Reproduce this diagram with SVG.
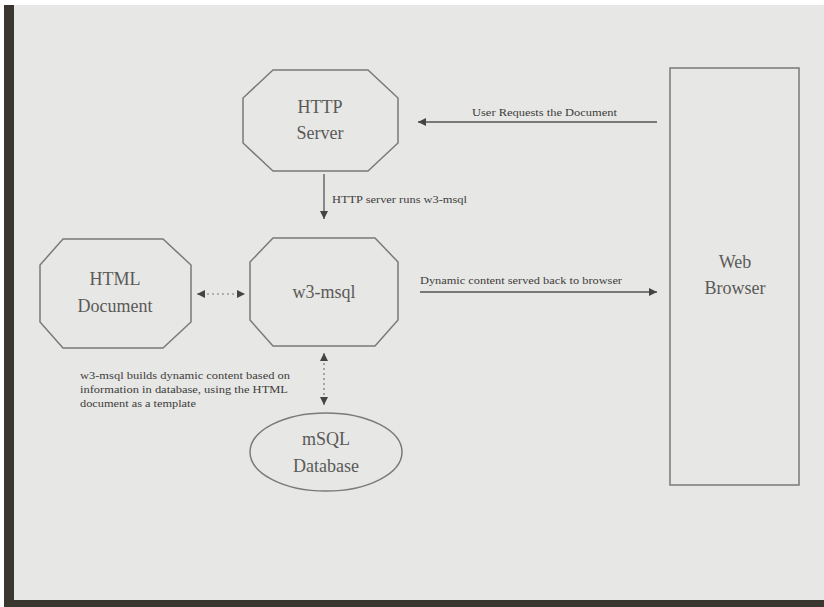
<svg xmlns="http://www.w3.org/2000/svg" width="824" height="607" viewBox="0 0 824 607">
<defs>
<style>
.shape{fill:none;stroke:#7a7a78;stroke-width:1.5}
.conn{stroke:#555;stroke-width:1.3;fill:none}
.dash{stroke:#777;stroke-width:1.2;stroke-dasharray:2 3;fill:none}
.big{font-family:"Liberation Serif","DejaVu Serif",serif;font-size:18px;fill:#5a5a58;text-anchor:middle}
.small{font-family:"Liberation Serif","DejaVu Serif",serif;font-size:9.5px;fill:#3c3c3a}
</style>
<marker id="ah" viewBox="0 0 10 10" refX="10" refY="5" markerWidth="12" markerHeight="8" markerUnits="userSpaceOnUse" orient="auto-start-reverse">
<path d="M0,0 L10,5 L0,10 z" fill="#444"/>
</marker>
</defs>
<rect x="0" y="0" width="824" height="607" fill="#ffffff"/>
<rect x="4" y="5" width="820" height="602" fill="#e7e7e5"/>
<rect x="4" y="5" width="10" height="602" fill="#3a3630"/>
<rect x="4" y="600" width="820" height="7" fill="#3a3630"/>

<g id="http-server">
<polygon class="shape" points="273,70 368,70 398,98 398,143 368,171 273,171 243,143 243,98"/>
<text class="big" x="320" y="113">HTTP</text>
<text class="big" x="320" y="139">Server</text>
</g>
<g id="w3-msql">
<polygon class="shape" points="273,238 375,238 398,262 398,320 375,346 273,346 250,320 250,262"/>
<text class="big" x="324" y="298">w3-msql</text>
</g>
<g id="html-document">
<polygon class="shape" points="63,239 163,239 191,265 191,322 163,348 63,348 40,322 40,265"/>
<text class="big" x="115" y="285">HTML</text>
<text class="big" x="115" y="312">Document</text>
</g>
<g id="msql-database">
<ellipse class="shape" cx="326" cy="452" rx="76" ry="39"/>
<text class="big" x="326" y="445">mSQL</text>
<text class="big" x="326" y="472">Database</text>
</g>
<g id="web-browser">
<rect class="shape" x="670" y="68" width="129" height="417"/>
<text class="big" x="735" y="268">Web</text>
<text class="big" x="735" y="294">Browser</text>
</g>

<g id="connectors">
<line class="conn" x1="657" y1="122" x2="418" y2="122" marker-end="url(#ah)"/>
<line class="conn" x1="324" y1="174" x2="324" y2="219" marker-end="url(#ah)"/>
<line class="conn" x1="420" y1="292" x2="657" y2="292" marker-end="url(#ah)"/>
<line class="dash" x1="197" y1="294" x2="245" y2="294" marker-start="url(#ah)" marker-end="url(#ah)"/>
<line class="dash" x1="324" y1="353" x2="324" y2="405" marker-start="url(#ah)" marker-end="url(#ah)"/>
</g>

<g id="labels">
<text class="small" x="472" y="116" textLength="145" lengthAdjust="spacingAndGlyphs">User Requests the Document</text>
<text class="small" x="332" y="203" textLength="135" lengthAdjust="spacingAndGlyphs">HTTP server runs w3-msql</text>
<text class="small" x="420" y="284" textLength="202" lengthAdjust="spacingAndGlyphs">Dynamic content served back to browser</text>
<text class="small" x="80" y="379" textLength="210" lengthAdjust="spacingAndGlyphs">w3-msql builds dynamic content based on</text>
<text class="small" x="80" y="393" textLength="208" lengthAdjust="spacingAndGlyphs">information in database, using the HTML</text>
<text class="small" x="80" y="407" textLength="116" lengthAdjust="spacingAndGlyphs">document as a template</text>
</g>
</svg>
